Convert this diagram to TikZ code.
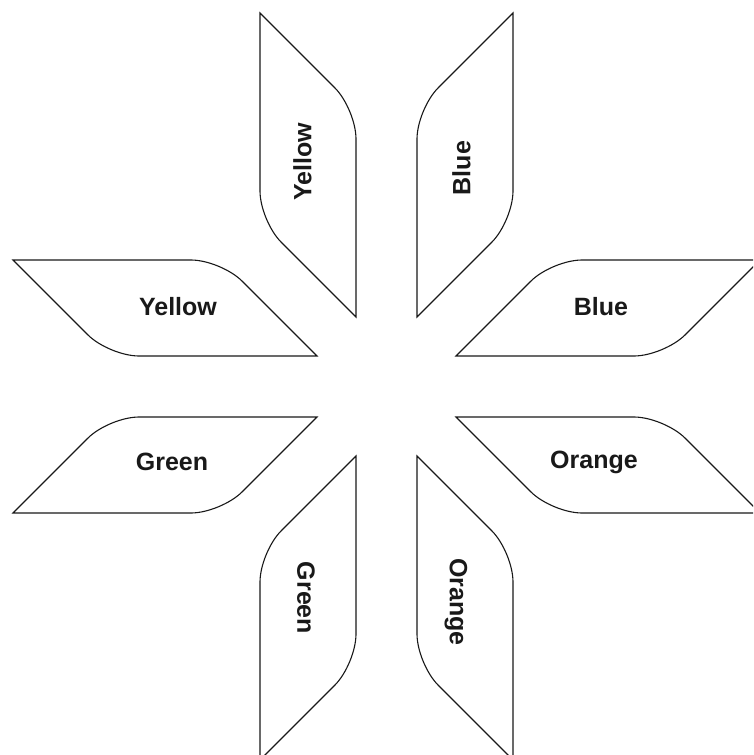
\documentclass[tikz,border=0pt]{standalone}
\usepackage{fontspec}
\setmainfont{Liberation Sans}
\usetikzlibrary{calc}
\def\rr{30pt}
\newcommand\mypetal[5]{%
  \coordinate (#1a) at #2;
  \coordinate (#1b) at #3;
  \coordinate (#1c) at #4;
  \coordinate (#1d) at #5;
  \coordinate (#1b1) at ($(#1b)!\rr!(#1a)$);
  \coordinate (#1b2) at ($(#1b)!\rr!(#1c)$);
  \coordinate (#1d1) at ($(#1d)!\rr!(#1c)$);
  \coordinate (#1d2) at ($(#1d)!\rr!(#1a)$);
  \draw[petalline] (#1a) -- (#1b1) .. controls ($(#1b1)!0.55!(#1b)$) and ($(#1b2)!0.55!(#1b)$) .. (#1b2) -- (#1c) -- (#1d1) .. controls ($(#1d1)!0.55!(#1d)$) and ($(#1d2)!0.55!(#1d)$) .. (#1d2) -- cycle;
}
\tikzset{
  petalline/.style={draw=black!90, line width=1.1pt, line join=miter},
  lbl/.style={font=\fontsize{25}{30}\selectfont\bfseries, text=black!90, inner sep=0pt}
}
\begin{document}
\begin{tikzpicture}[x=1pt,y=-1pt]
\useasboundingbox (0,0) rectangle (753,755);
\clip (0,0) rectangle (753,755);
\fill[white] (0,0) rectangle (753,755);
\begin{scope}[shift={(386.5,386.5)}]
  % vertical petals
  \mypetal{yv}{(-126.5,-373.5)}{(-30.5,-277.5)}{(-30.5,-69.5)}{(-126.5,-165.5)}
  \mypetal{bv}{(126.5,-373.5)}{(30.5,-277.5)}{(30.5,-69.5)}{(126.5,-165.5)}
  \mypetal{gv}{(-126.5,373.5)}{(-30.5,277.5)}{(-30.5,69.5)}{(-126.5,165.5)}
  \mypetal{ov}{(126.5,373.5)}{(30.5,277.5)}{(30.5,69.5)}{(126.5,165.5)}
  % horizontal petals
  \mypetal{yh}{(-373.5,-126.5)}{(-277.5,-30.5)}{(-69.5,-30.5)}{(-165.5,-126.5)}
  \mypetal{bh}{(373.5,-126.5)}{(277.5,-30.5)}{(69.5,-30.5)}{(165.5,-126.5)}
  \mypetal{gh}{(-373.5,126.5)}{(-277.5,30.5)}{(-69.5,30.5)}{(-165.5,126.5)}
  \mypetal{oh}{(373.5,126.5)}{(277.5,30.5)}{(69.5,30.5)}{(165.5,126.5)}
\end{scope}
% labels
\node[lbl, rotate=90] (lyv) at (302.5,161.5) {Yellow};
\node[lbl, rotate=90] (lbv) at (461.5,168) {Blue};
\node[lbl, rotate=-90] (lgv) at (306,598) {Green};
\node[lbl, rotate=-90] (lov) at (456,602) {Orange};
\node[lbl] (lyh) at (178,307) {Yellow};
\node[lbl] (lbh) at (601,306.5) {Blue};
\node[lbl] (lgh) at (172,461.5) {Green};
\node[lbl] (loh) at (594,462) {Orange};
\end{tikzpicture}
\end{document}
